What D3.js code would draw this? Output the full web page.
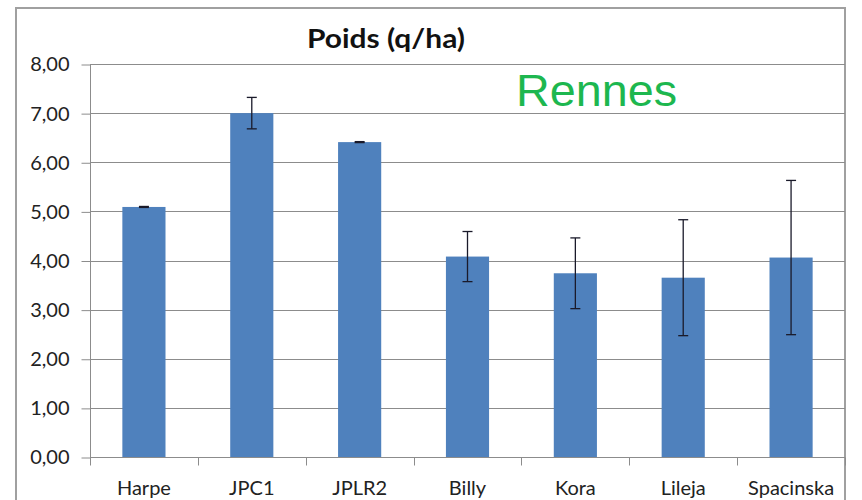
<!DOCTYPE html>
<html>
<head>
<meta charset="utf-8">
<script src="https://cdn.jsdelivr.net/npm/d3@7"></script>
<style>
  html, body { margin: 0; padding: 0; background: #fff; }
  svg { display: block; }
</style>
</head>
<body>
<svg id="chart" width="862" height="500"></svg>
<script>
const categories = ["Harpe", "JPC1", "JPLR2", "Billy", "Kora", "Lileja", "Spacinska"];
const values = [5.09, 7.00, 6.41, 4.08, 3.74, 3.65, 4.06];
const errors = [0.01, 0.32, 0.01, 0.51, 0.72, 1.18, 1.57];
const yTicks = [0, 1, 2, 3, 4, 5, 6, 7, 8];
const title = "Poids (q/ha)";
const site = "Rennes";

const svg = d3.select("#chart");
const margin = { left: 90, right: 17, top: 64, bottom: 43 };
const W = 862, H = 500;
const FONT = "Lato, 'Open Sans', sans-serif";

// outer frame
svg.append("rect")
  .attr("x", 16).attr("y", 8)
  .attr("width", 829).attr("height", 500)
  .attr("fill", "none").attr("stroke", "#a0a0a0").attr("stroke-width", 2);

const x = d3.scaleBand().domain(categories)
  .range([margin.left, W - margin.right]).paddingInner(0.6).paddingOuter(0.3);
const xTickScale = d3.scaleBand().domain(categories)
  .range([margin.left, W - margin.right]);
const y = d3.scaleLinear().domain([0, 8]).range([H - margin.bottom, margin.top]);

// gridlines
svg.append("g").selectAll("line").data(yTicks.filter(d => d > 0)).join("line")
  .attr("x1", margin.left).attr("x2", W - margin.right)
  .attr("y1", d => Math.round(y(d)) + 0.5).attr("y2", d => Math.round(y(d)) + 0.5)
  .attr("stroke", "#8c8c8c").attr("stroke-width", 1.2);

// y axis
const yAxis = d3.axisLeft(y).tickValues(yTicks).tickSize(9).tickPadding(12)
  .tickFormat(d => d3.format(".2f")(d).replace(".", ","));
const gy = svg.append("g").attr("transform", `translate(${margin.left + 0.5},0.5)`).call(yAxis);
gy.select(".domain").attr("d", `M0,${y(8)}V${y(0) + 8}`).attr("stroke", "#8c8c8c");
gy.selectAll(".tick line").attr("stroke", "#8c8c8c");
gy.selectAll(".tick text").attr("font-family", FONT)
  .attr("font-size", 20).attr("fill", "#222");

// bars
svg.append("g").selectAll("rect").data(categories).join("rect")
  .attr("x", d => x(d)).attr("width", x.bandwidth())
  .attr("y", (d, i) => y(values[i]))
  .attr("height", (d, i) => y(0) - y(values[i]))
  .attr("fill", "#4f81bd");

// x axis
const xAxis = d3.axisBottom(xTickScale).tickSize(0).tickPadding(23);
const gx = svg.append("g").attr("transform", `translate(0,${Math.round(y(0)) + 0.5})`).call(xAxis);
gx.select(".domain").attr("stroke", "#8c8c8c").attr("d", `M${margin.left},0H${W - margin.right}`);
gx.selectAll(".tick text").attr("font-family", FONT)
  .attr("font-size", 20).attr("fill", "#222");
// category separator ticks
const sepPos = categories.map(c => xTickScale(c)).concat([W - margin.right]);
gx.append("g").selectAll("line").data(sepPos.slice(1)).join("line")
  .attr("x1", d => Math.round(d) + 0.5).attr("x2", d => Math.round(d) + 0.5)
  .attr("y1", 0).attr("y2", 8).attr("stroke", "#8c8c8c");

// error bars
const eg = svg.append("g").attr("stroke", "#1a1a2a").attr("stroke-width", 1.3);
categories.forEach((c, i) => {
  const cx = x(c) + x.bandwidth() / 2;
  const top = y(values[i] + errors[i]), bot = y(values[i] - errors[i]);
  eg.append("line").attr("x1", cx).attr("x2", cx).attr("y1", top).attr("y2", bot);
  eg.append("line").attr("x1", cx - 5).attr("x2", cx + 5).attr("y1", top).attr("y2", top);
  eg.append("line").attr("x1", cx - 5).attr("x2", cx + 5).attr("y1", bot).attr("y2", bot);
});

// title
svg.append("text").attr("x", 307).attr("y", 48)
  .attr("font-family", FONT).attr("font-weight", "bold")
  .attr("font-size", 26).attr("fill", "#111")
  .attr("textLength", 158).attr("lengthAdjust", "spacingAndGlyphs")
  .text(title);

// site label
svg.append("text").attr("x", 516).attr("y", 106)
  .attr("font-family", "'Liberation Sans', Arial, sans-serif")
  .attr("font-size", 44).attr("fill", "#1db74f")
  .attr("textLength", 161).attr("lengthAdjust", "spacingAndGlyphs")
  .text(site);
</script>
</body>
</html>
